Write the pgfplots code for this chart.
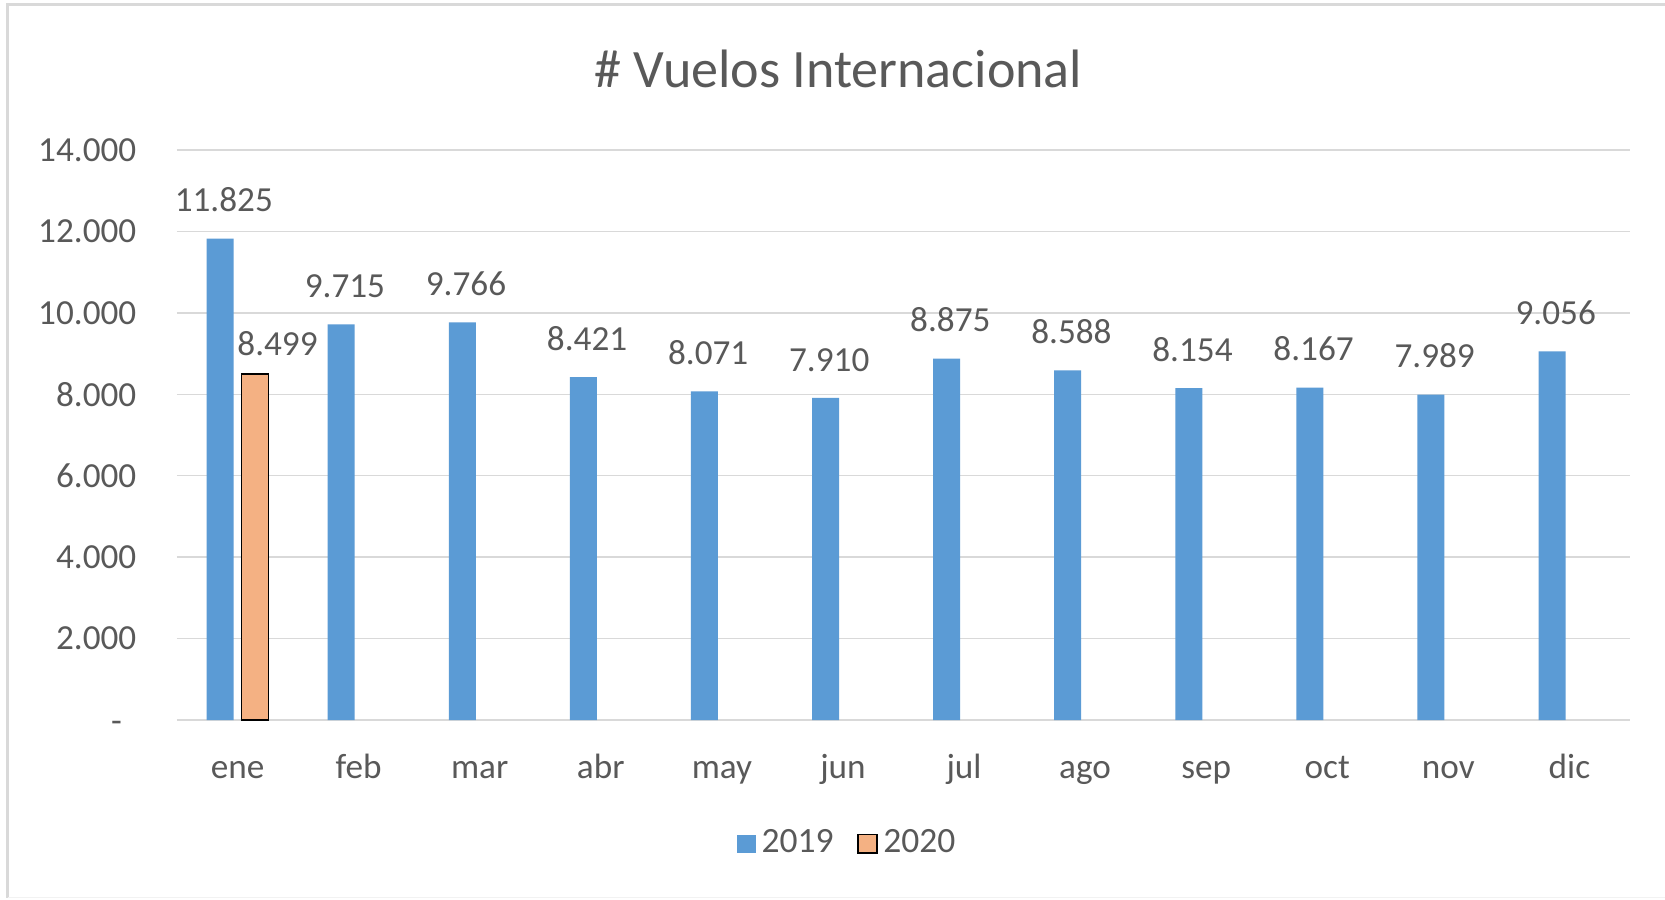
\documentclass[border=0pt]{standalone}
\usepackage{pgfplots}
\pgfplotsset{compat=1.18}
\usepackage{fontspec}
\setmainfont{Carlito}
\definecolor{cblue}{HTML}{5B9BD5}
\definecolor{corange}{HTML}{F4B183}
\definecolor{ctext}{HTML}{595959}
\definecolor{cgrid}{HTML}{D9D9D9}
\begin{document}
\begin{tikzpicture}
\begin{scope}[x=0.27pt,y=0.27pt]
\useasboundingbox (-177,-179) rectangle (1488,720);
\fill[white] (-177,-179) rectangle (1488,720);
\draw[cgrid, line width=0.8pt] (1490,715.5) -- (-169.3,715.5) -- (-169.3,-177.5);
\draw[black!5, line width=0.5pt] (-169.3,-177.5) -- (1490,-177.5);
\node[anchor=base, inner sep=0pt, text=ctext, font=\fontsize{14.6}{17}\selectfont] at (661.5,633) {\# Vuelos Internacional};
\end{scope}
\begin{axis}[
  at={(0,0)}, anchor=south west,
  scale only axis, width=392.31pt, height=153.9pt,
  xmin=-0.5, xmax=11.5, ymin=0, ymax=14000,
  scaled y ticks=false,
  xtick={0,...,11},
  xticklabels={ene,feb,mar,abr,may,jun,jul,ago,sep,oct,nov,dic},
  ytick={0,2000,4000,6000,8000,10000,12000,14000},
  yticklabels={\vphantom{0}\smash{\raisebox{-0.4pt}{-}}\makebox[3.9pt]{},2.000,4.000,6.000,8.000,10.000,12.000,14.000},
  ymajorgrids, grid style={cgrid, line width=0.4pt},
  axis line style={draw=none},
  major tick length=0pt,
  tick label style={font=\fontsize{9.5}{11}\selectfont, text=ctext},
  xticklabel style={anchor=base, yshift=-15.7pt},
  yticklabel style={anchor=east, inner sep=0pt, xshift=-10.8pt},
  /pgf/number format/assume math mode=true,
  /pgf/number format/1000 sep={.},
  ybar, bar width=7.29pt,
  nodes near coords,
  every node near coord/.append style={font=\fontsize{9.5}{11}\selectfont, text=ctext, inner sep=0pt, anchor=south, yshift=7pt, xshift=1pt},
  legend style={draw=none, fill=none, at={(0.4625,-0.2175)}, anchor=center, legend columns=2,
    font=\fontsize{9.6}{11}\selectfont, text=ctext, nodes={inner sep=1.5pt},
    /tikz/every even column/.append style={column sep=4.8pt}},
]
\addplot[fill=cblue, draw=none, bar shift=-4.7pt,
  legend image code/.code={\fill[cblue] (0pt,-2.55pt) rectangle (5.1pt,2.55pt);}]
  coordinates {(0,11825) (1,9715) (2,9766) (3,8421) (4,8071) (5,7910) (6,8875) (7,8588) (8,8154) (9,8167) (10,7989) (11,9056)};
\addlegendentry{2019}
\addplot[fill=corange, draw=black, line width=0.5pt, bar shift=4.7pt,
  every node near coord/.append style={xshift=5.1pt, yshift=-2.4pt},
  legend image code/.code={\draw[fill=corange, draw=black, line width=0.5pt] (0.25pt,-2.55pt) rectangle (5.35pt,2.55pt);}]
  coordinates {(0,8499)};
\addlegendentry{2020}
\end{axis}
\end{tikzpicture}
\end{document}
